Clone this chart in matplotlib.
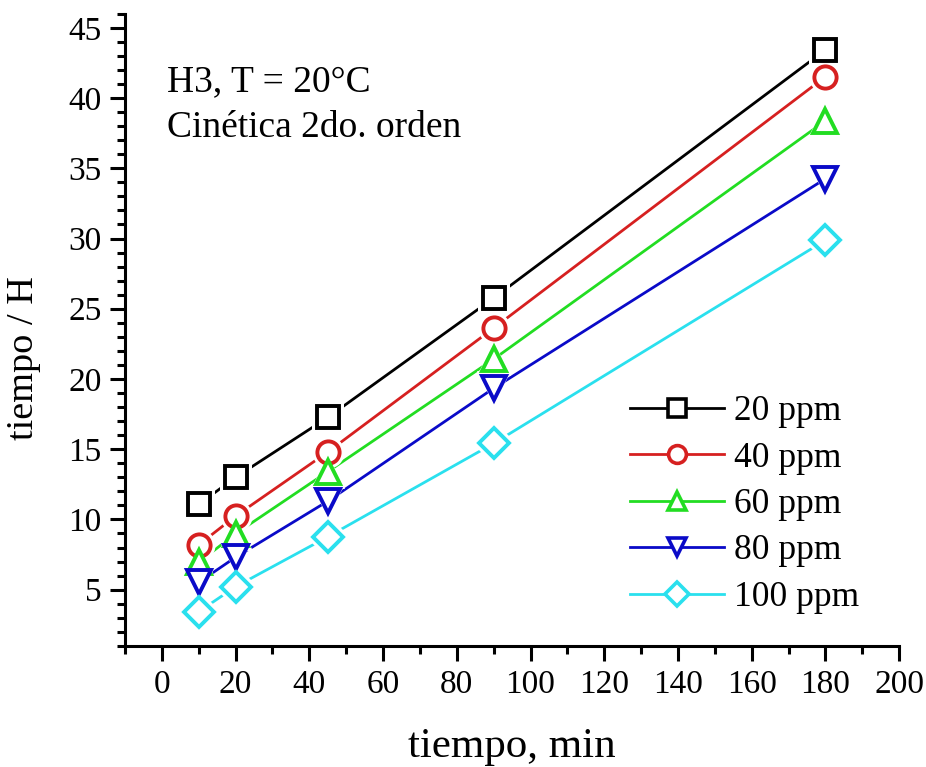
import matplotlib
matplotlib.use("Agg")
import matplotlib.pyplot as plt
from matplotlib.ticker import MultipleLocator

# data
tiempo = [10, 20, 45, 90, 180]
ppm_20 = [11.07, 13.0, 17.26, 25.76, 43.43]
ppm_40 = [8.19, 10.24, 14.8, 23.62, 41.52]
ppm_60 = [6.95, 8.98, 13.4, 21.41, 38.38]
ppm_80 = [5.52, 7.31, 11.3, 19.34, 34.26]
ppm_100 = [3.43, 5.21, 8.76, 15.41, 29.88]

labels = ["20 ppm", "40 ppm", "60 ppm", "80 ppm", "100 ppm"]
colors = ["#000000", "#d62020", "#22dd22", "#0a0ac8", "#2ae0ee"]
markers = ["s", "o", "^", "v", "D"]
sizes = [16, 16, 17, 17, 15]

plt.rcParams["font.family"] = ["Liberation Serif", "DejaVu Serif"]

fig = plt.figure(figsize=(9.26, 7.67), dpi=100)
ax = fig.add_axes([0.135, 0.158, 0.836, 0.824])

series = [ppm_20, ppm_40, ppm_60, ppm_80, ppm_100]
for vals, lab, c, m, s in zip(series, labels, colors, markers, sizes):
    ax.plot(tiempo, vals, color=c, lw=2.0, zorder=2)
    # white halo so the line stops short of the marker
    ax.plot(tiempo, vals, ls="none", marker=m, ms=s + 7, mfc="white",
            mec="white", mew=0, zorder=3)
    ax.plot(tiempo, vals, ls="none", marker=m, ms=s, mfc="white",
            mec=c, mew=2.8, zorder=4)
    # legend handle
    ax.plot([], [], color=c, lw=2.0, marker=m, ms=s * 0.8, mfc="white",
            mec=c, mew=2.6, label=lab)

ax.set_xlim(-10, 200)
ax.set_ylim(1, 46)
ax.xaxis.set_major_locator(MultipleLocator(20))
ax.xaxis.set_minor_locator(MultipleLocator(10))
ax.yaxis.set_major_locator(MultipleLocator(5))
ax.yaxis.set_minor_locator(MultipleLocator(1))
ax.set_yticks(range(5, 46, 5))

for side in ["top", "right"]:
    ax.spines[side].set_visible(False)
for side in ["left", "bottom"]:
    ax.spines[side].set_linewidth(2.2)

ax.tick_params(which="major", direction="out", length=11, width=2.2,
               labelsize=24, pad=6)
ax.tick_params(which="minor", direction="out", length=6, width=2.2)

ax.set_xlabel("tiempo, min", fontsize=31, labelpad=20)
ax.set_ylabel("tiempo / H", fontsize=27.5)
ax.yaxis.set_label_coords(-0.108, 0.456)

ax.text(0.054, 0.792, "H3, T = 20°C\nCinética 2do. orden",
        transform=ax.transAxes, fontsize=27, linespacing=1.42, va="bottom")

leg = ax.legend(loc="lower right", bbox_to_anchor=(0.99, 0.0), frameon=False,
                fontsize=25.5, handlelength=2.65, labelspacing=0.38,
                handletextpad=0.3)

fig.savefig("out.png", dpi=100)
